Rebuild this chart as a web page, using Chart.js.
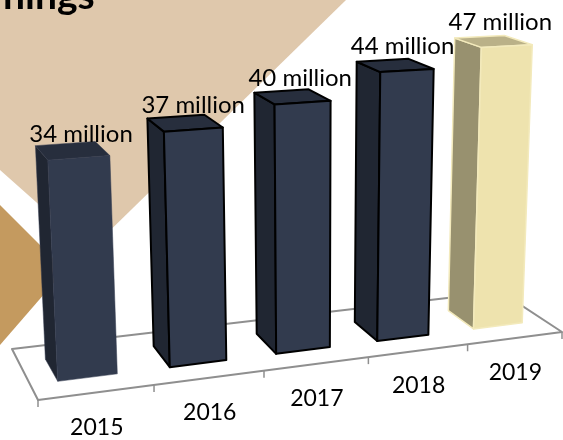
<!DOCTYPE html>
<html>
<head>
<meta charset="utf-8">
<style>
    html, body { margin: 0; padding: 0; background: #fff; }
    canvas { display: block; }
</style>
<script src="https://cdn.jsdelivr.net/npm/chart.js@4"></script>
</head>
<body>
<canvas id="subscriberChart" width="563" height="440"></canvas>
<script>
var years = ['2015', '2016', '2017', '2018', '2019'];
var millions = [34, 37, 40, 44, 47];
var unitLabel = ' million';
var headingText = 'nings';

var frontColors = ['#323b4e', '#323b4e', '#323b4e', '#323b4e', '#eee3ae'];
var edgeColors = ['#323b4e', '#000000', '#000000', '#000000', '#f3eabc'];
var edgeWidths = [0.5, 2, 2, 2, 1.5];

// corners of the floor on screen: front left, front right, back right, back left
var floorCorners = [[38, 400], [562, 332], [500.5, 291.7], [12, 349]];
var verticalVanish = [313, 6100];
var liftAtAxisMax = 0.0565;
var barFrontDepth = 0.28;
var barBackDepth = 0.72;

var floorMatrix = squareToQuad(floorCorners);

function squareToQuad(q) {
    var dx1 = q[1][0] - q[2][0], dx2 = q[3][0] - q[2][0], sx = q[0][0] - q[1][0] + q[2][0] - q[3][0];
    var dy1 = q[1][1] - q[2][1], dy2 = q[3][1] - q[2][1], sy = q[0][1] - q[1][1] + q[2][1] - q[3][1];
    var den = dx1 * dy2 - dx2 * dy1;
    var g = (sx * dy2 - dx2 * sy) / den;
    var h = (dx1 * sy - sx * dy1) / den;
    return {
        a: q[1][0] - q[0][0] + g * q[1][0], b: q[3][0] - q[0][0] + h * q[3][0], c: q[0][0],
        d: q[1][1] - q[0][1] + g * q[1][1], e: q[3][1] - q[0][1] + h * q[3][1], f: q[0][1],
        g: g, h: h
    };
}

// u runs along the category axis, v into the floor, lift up the bar
function project(u, v, lift) {
    var m = floorMatrix;
    var w = m.g * u + m.h * v + 1 - lift;
    return {
        x: (m.a * u + m.b * v + m.c - lift * verticalVanish[0]) / w,
        y: (m.d * u + m.e * v + m.f - lift * verticalVanish[1]) / w
    };
}

function shade(hex, factor) {
    var out = '#';
    for(var i = 1; i < 7; i += 2) {
        var part = Math.round(parseInt(hex.substr(i, 2), 16) * factor).toString(16);
        out += part.length < 2 ? '0' + part : part;
    }
    return out;
}

function polygon(ctx, points, fill, stroke, width) {
    ctx.beginPath();
    ctx.moveTo(points[0].x, points[0].y);
    for(var i = 1; i < points.length; ++i) {
        ctx.lineTo(points[i].x, points[i].y);
    }
    ctx.closePath();
    if(fill) {
        ctx.fillStyle = fill;
        ctx.fill();
    }
    if(stroke) {
        ctx.strokeStyle = stroke;
        ctx.lineWidth = width;
        ctx.lineJoin = 'round';
        ctx.stroke();
    }
}

function xToU(chart, px) {
    return (px - chart.chartArea.left) / chart.chartArea.width;
}

function drawBackdrop(ctx) {
    polygon(ctx, [{x: 0, y: 0}, {x: 346, y: 0}, {x: 90, y: 250}, {x: 0, y: 170}], '#dfc8ac');
    polygon(ctx, [{x: 0, y: 205}, {x: 65, y: 270}, {x: 0, y: 345}], '#c49a5f');
    ctx.fillStyle = '#000';
    ctx.font = 'bold 39px Lato';
    ctx.textAlign = 'left';
    ctx.textBaseline = 'alphabetic';
    ctx.fillText(headingText, 3, 9);
}

function drawFloor(ctx) {
    var corners = [project(0, 0, 0), project(1, 0, 0), project(1, 1, 0), project(0, 1, 0)];
    polygon(ctx, corners, null, '#8f8f8f', 2);
    ctx.strokeStyle = '#8f8f8f';
    ctx.lineWidth = 1.5;
    for(var i = 0; i <= years.length; ++i) {
        var p = project(i / years.length, 0, 0);
        ctx.beginPath();
        ctx.moveTo(p.x, p.y);
        ctx.lineTo(p.x, p.y + 7);
        ctx.stroke();
    }
}

function drawBar(chart, bar) {
    var ctx = chart.ctx;
    var left = xToU(chart, bar.x - bar.width / 2);
    var right = xToU(chart, bar.x + bar.width / 2);
    var lift = (bar.base - bar.y) / chart.chartArea.height * liftAtAxisMax;
    var o = bar.options;

    var frontBottomL = project(left, barFrontDepth, 0);
    var frontBottomR = project(right, barFrontDepth, 0);
    var backBottomL = project(left, barBackDepth, 0);
    var frontTopL = project(left, barFrontDepth, lift);
    var frontTopR = project(right, barFrontDepth, lift);
    var backTopL = project(left, barBackDepth, lift);
    var backTopR = project(right, barBackDepth, lift);

    polygon(ctx, [frontBottomL, backBottomL, backTopL, frontTopL], shade(o.backgroundColor, 0.64), o.borderColor, o.borderWidth);
    polygon(ctx, [frontTopL, backTopL, backTopR, frontTopR], shade(o.backgroundColor, 0.78), o.borderColor, o.borderWidth);
    polygon(ctx, [frontBottomL, frontTopL, frontTopR, frontBottomR], o.backgroundColor, o.borderColor, o.borderWidth);
}

function drawLabels(chart) {
    var ctx = chart.ctx;
    var bars = chart.getDatasetMeta(0).data;
    ctx.fillStyle = '#000';
    ctx.textAlign = 'center';
    ctx.textBaseline = 'middle';
    for(var i = 0; i < bars.length; ++i) {
        var u = xToU(chart, bars[i].x);
        var lift = (bars[i].base - bars[i].y) / chart.chartArea.height * liftAtAxisMax;
        var top = project(u, barFrontDepth, lift);
        ctx.font = '24px Lato';
        ctx.fillText(millions[i] + unitLabel, top.x + (300 - top.x) * 0.02 - 2.5, top.y - 24);

        var foot = project(u, 0, 0);
        ctx.font = '23px Lato';
        ctx.fillText(chart.scales.x.getLabelForValue(i), foot.x, foot.y + 35);
    }
}

var perspectivePlugin = {
    id: 'perspectiveBars',
    beforeDraw: function (chart) {
        drawBackdrop(chart.ctx);
    },
    beforeDatasetsDraw: function (chart) {
        drawFloor(chart.ctx);
        var bars = chart.getDatasetMeta(0).data;
        for(var i = 0; i < bars.length; ++i) {
            drawBar(chart, bars[i]);
        }
        return false;
    },
    afterDraw: drawLabels
};

var subscriberChart = new Chart(document.getElementById('subscriberChart'), {
    type: 'bar',
    data: {
        labels: years,
        datasets: [{
            data: millions,
            backgroundColor: frontColors,
            borderColor: edgeColors,
            borderWidth: edgeWidths,
            barPercentage: 0.525,
            categoryPercentage: 1
        }]
    },
    options: {
        responsive: false,
        animation: false,
        layout: { padding: 0 },
        plugins: {
            legend: { display: false },
            tooltip: { enabled: false }
        },
        scales: {
            x: { display: false },
            y: { display: false, min: 0, max: 50 }
        }
    },
    plugins: [perspectivePlugin]
});
</script>
</body>
</html>
